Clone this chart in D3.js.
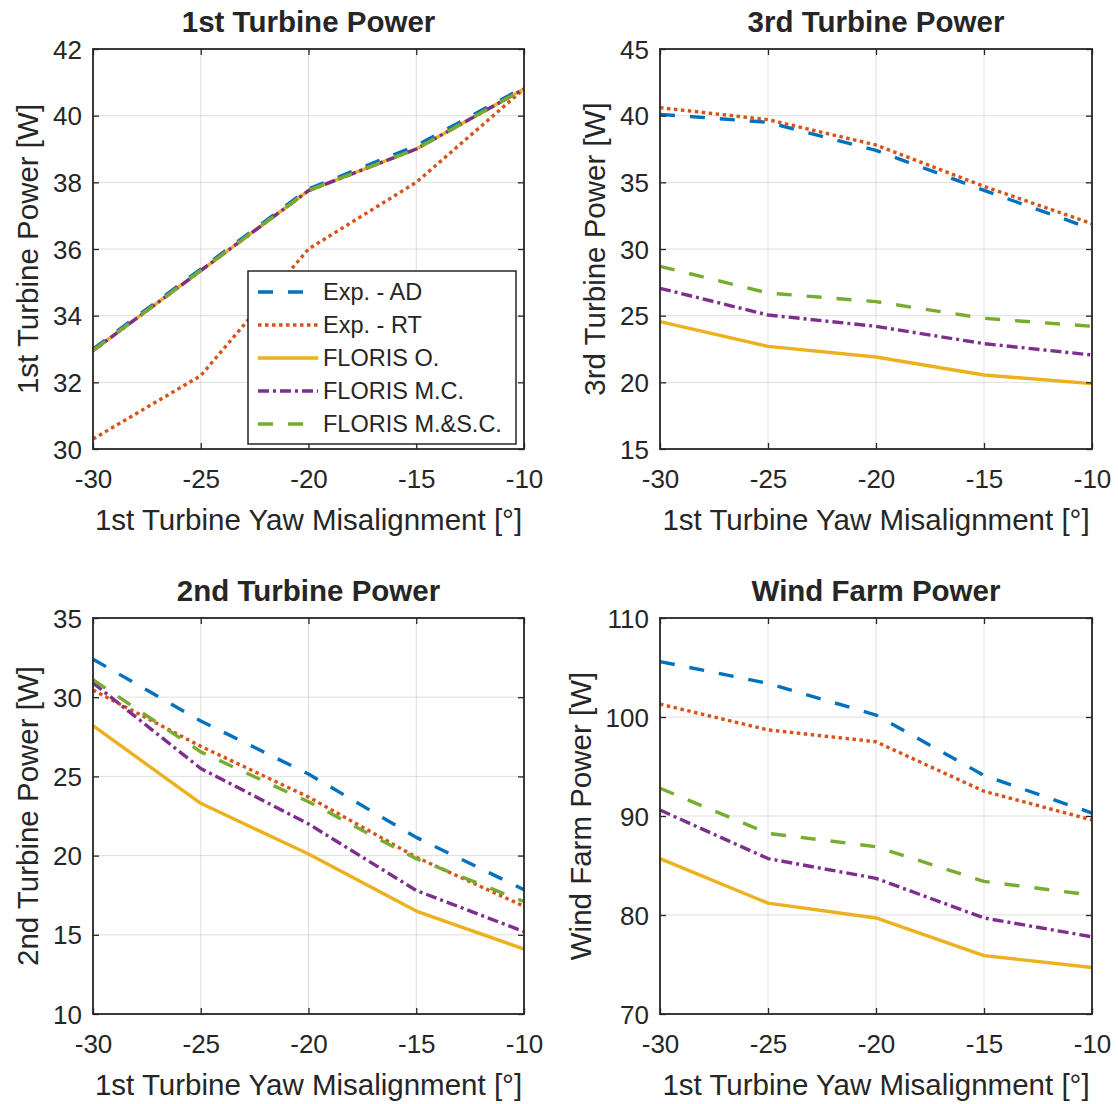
<!DOCTYPE html>
<html>
<head>
<meta charset="utf-8">
<script src="https://cdn.jsdelivr.net/npm/d3@7"></script>
<style>
  html, body { margin: 0; padding: 0; background: #fff; }
  svg { display: block; }
  text { font-family: "Liberation Sans", Arial, sans-serif; fill: #262626; }
</style>
</head>
<body>
<svg id="chart" width="1118" height="1104"></svg>
<script>
// ---------- data ----------
const yaw = [-30, -25, -20, -15, -10];
const xTicks = [-30, -25, -20, -15, -10];

const seriesNames = ["Exp. - AD", "Exp. - RT", "FLORIS O.", "FLORIS M.C.", "FLORIS M.&S.C."];

// 1st turbine power [W]
const t1_AD  = [33.0, 35.4, 37.8, 39.1, 40.85];
const t1_RT  = [30.3, 32.2, 36.0, 38.0, 40.8];
const t1_O   = [32.95, 35.35, 37.75, 39.0, 40.8];
const t1_MC  = [32.95, 35.35, 37.75, 39.0, 40.8];
const t1_MSC = [32.95, 35.35, 37.75, 39.0, 40.8];
const t1_ticks = [30, 32, 34, 36, 38, 40, 42];

// 3rd turbine power [W]
const t3_AD  = [40.1, 39.5, 37.4, 34.4, 31.5];
const t3_RT  = [40.6, 39.7, 37.8, 34.7, 31.9];
const t3_O   = [24.55, 22.7, 21.9, 20.55, 19.9];
const t3_MC  = [27.05, 25.05, 24.2, 22.9, 22.05];
const t3_MSC = [28.7, 26.7, 26.05, 24.8, 24.2];
const t3_ticks = [15, 20, 25, 30, 35, 40, 45];

// 2nd turbine power [W]
const t2_AD  = [32.4, 28.5, 25.15, 21.15, 17.85];
const t2_RT  = [30.45, 26.9, 23.7, 19.9, 16.8];
const t2_O   = [28.2, 23.3, 20.1, 16.5, 14.1];
const t2_MC  = [30.9, 25.5, 22.0, 17.8, 15.2];
const t2_MSC = [31.1, 26.55, 23.4, 19.8, 17.1];
const t2_ticks = [10, 15, 20, 25, 30, 35];

// wind farm power [W]
const wf_AD  = [105.6, 103.4, 100.2, 94.1, 90.3];
const wf_RT  = [101.3, 98.7, 97.5, 92.5, 89.6];
const wf_O   = [85.7, 81.2, 79.7, 75.9, 74.7];
const wf_MC  = [90.6, 85.7, 83.7, 79.7, 77.8];
const wf_MSC = [92.8, 88.25, 86.9, 83.4, 82.0];
const wf_ticks = [70, 80, 90, 100, 110];

// ---------- styles ----------
const colors = ["#0072BD", "#D95319", "#EDB120", "#7E2F8E", "#77AC30"];
const dashes = ["15,15", "3.5,3.5", null, "11,4,3,4", "15,15"];
const LW = 3.4;
const INK = "#262626";

const svg = d3.select("#chart");

function panel(cfg) {
  const { left, top, w, h, title, ylabel, yDomain, yTicks, series, legend } = cfg;
  const g = svg.append("g").attr("transform", `translate(${left},${top})`);
  const x = d3.scaleLinear().domain([-30, -10]).range([0, w]);
  const y = d3.scaleLinear().domain(yDomain).range([h, 0]);

  // grid
  g.append("g").selectAll("line").data(xTicks.slice(1, -1)).join("line")
    .attr("x1", d => x(d)).attr("x2", d => x(d)).attr("y1", 0).attr("y2", h)
    .attr("stroke", INK).attr("stroke-opacity", 0.15).attr("stroke-width", 1);
  g.append("g").selectAll("line").data(yTicks.slice(1, -1)).join("line")
    .attr("x1", 0).attr("x2", w).attr("y1", d => y(d)).attr("y2", d => y(d))
    .attr("stroke", INK).attr("stroke-opacity", 0.15).attr("stroke-width", 1);

  // lines
  const line = d3.line().x((d, i) => x(yaw[i])).y(d => y(d));
  series.forEach((s, i) => {
    g.append("path").datum(s).attr("d", line)
      .attr("fill", "none").attr("stroke", colors[i]).attr("stroke-width", LW)
      .attr("stroke-dasharray", dashes[i]).attr("stroke-linecap", "butt")
      .attr("stroke-linejoin", "round");
  });

  // axes (inward ticks, box on)
  const tl = 6;
  const fmt = d => String(d);
  const axB = d3.axisBottom(x).tickValues(xTicks).tickSizeInner(-tl).tickSizeOuter(0).tickFormat(fmt);
  const axT = d3.axisTop(x).tickValues(xTicks).tickSizeInner(-tl).tickSizeOuter(0).tickFormat("");
  const axL = d3.axisLeft(y).tickValues(yTicks).tickSizeInner(-tl).tickSizeOuter(0).tickFormat(fmt);
  const axR = d3.axisRight(y).tickValues(yTicks).tickSizeInner(-tl).tickSizeOuter(0).tickFormat("");

  const gb = g.append("g").attr("transform", `translate(0,${h})`).call(axB);
  const gt = g.append("g").call(axT);
  const gl = g.append("g").call(axL);
  const gr = g.append("g").attr("transform", `translate(${w},0)`).call(axR);
  [gb, gt, gl, gr].forEach(a => {
    a.select(".domain").remove();
    a.selectAll(".tick line").attr("stroke", INK).attr("stroke-width", 1.3);
  });
  gb.selectAll(".tick text").attr("y", 30).attr("dy", "0.35em")
    .style("font-size", "26px").attr("fill", INK);
  gl.selectAll(".tick text").attr("x", -11).attr("dy", "0.35em")
    .style("font-size", "26px").attr("fill", INK);

  // box
  g.append("rect").attr("x", 0).attr("y", 0).attr("width", w).attr("height", h)
    .attr("fill", "none").attr("stroke", INK).attr("stroke-width", 1.8);

  // tick label width for ylabel placement
  let maxW = 0;
  gl.selectAll(".tick text").each(function () { maxW = Math.max(maxW, this.getBBox().width); });

  // title
  g.append("text").attr("x", w / 2).attr("y", -27).attr("text-anchor", "middle")
    .attr("dy", "0.35em").style("font-size", "29.5px").style("font-weight", "bold")
    .attr("fill", "#000").text(title);
  // x label
  g.append("text").attr("x", w / 2).attr("y", h + 70.5).attr("text-anchor", "middle")
    .attr("dy", "0.35em").style("font-size", "29.5px").text("1st Turbine Yaw Misalignment [°]");
  // y label
  const yl = -(11 + maxW + 25);
  g.append("text").attr("transform", `translate(${yl},${h / 2}) rotate(-90)`)
    .attr("text-anchor", "middle").attr("dy", "0.35em").style("font-size", "29.5px").text(ylabel);

  if (legend) {
    const lw = 268, lh = 173;
    const lg = g.append("g").attr("transform", `translate(${w - 8 - lw},${h - 5 - lh})`);
    lg.append("rect").attr("width", lw).attr("height", lh).attr("fill", "#fff")
      .attr("stroke", INK).attr("stroke-width", 1.5);
    seriesNames.forEach((name, i) => {
      const cy = 21 + i * 33;
      lg.append("line").attr("x1", 10).attr("x2", 70).attr("y1", cy).attr("y2", cy)
        .attr("stroke", colors[i]).attr("stroke-width", LW).attr("stroke-dasharray", dashes[i]);
      lg.append("text").attr("x", 75).attr("y", cy).attr("dy", "0.35em")
        .style("font-size", "23.5px").attr("fill", "#000").text(name);
    });
  }
}

panel({ left: 93, top: 49, w: 431, h: 400, title: "1st Turbine Power", ylabel: "1st Turbine Power [W]",
  yDomain: [30, 42], yTicks: t1_ticks, series: [t1_AD, t1_RT, t1_O, t1_MC, t1_MSC], legend: true });
panel({ left: 660, top: 49, w: 432, h: 400, title: "3rd Turbine Power", ylabel: "3rd Turbine Power [W]",
  yDomain: [15, 45], yTicks: t3_ticks, series: [t3_AD, t3_RT, t3_O, t3_MC, t3_MSC] });
panel({ left: 93, top: 618, w: 431, h: 396, title: "2nd Turbine Power", ylabel: "2nd Turbine Power [W]",
  yDomain: [10, 35], yTicks: t2_ticks, series: [t2_AD, t2_RT, t2_O, t2_MC, t2_MSC] });
panel({ left: 660, top: 618, w: 432, h: 396, title: "Wind Farm Power", ylabel: "Wind Farm Power [W]",
  yDomain: [70, 110], yTicks: wf_ticks, series: [wf_AD, wf_RT, wf_O, wf_MC, wf_MSC] });
</script>
</body>
</html>
